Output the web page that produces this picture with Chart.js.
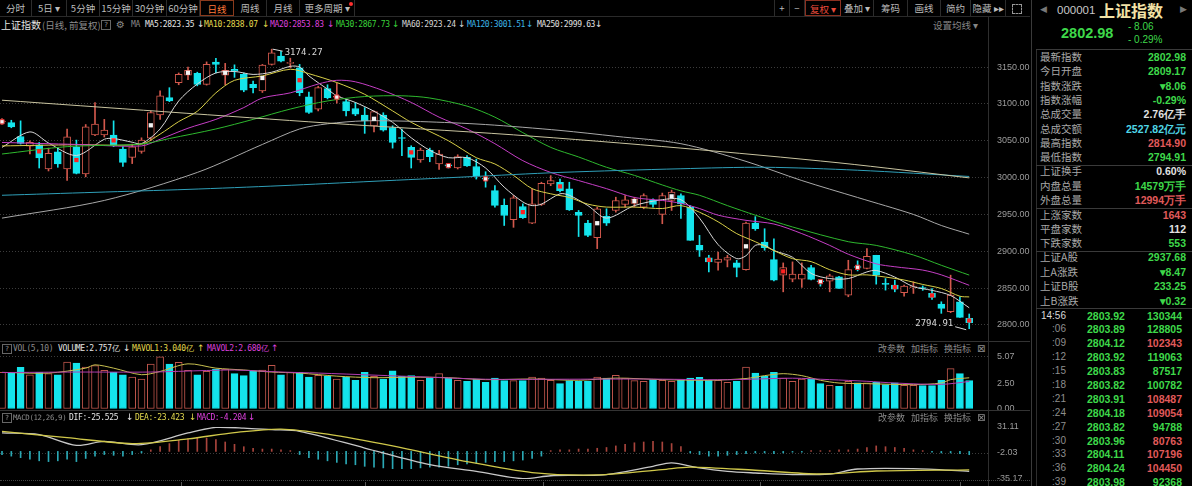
<!DOCTYPE html>
<html><head><meta charset="utf-8">
<script src="https://cdn.jsdelivr.net/npm/chart.js@4/dist/chart.umd.min.js"></script>
<style>
body{margin:0;background:#000;width:1192px;height:486px;overflow:hidden;position:relative;font-family:"Noto Sans CJK SC",sans-serif;color:#b8b8b8}
.a{position:absolute;white-space:nowrap;line-height:12px;height:12px}
.m{font-family:"DejaVu Sans Mono",monospace;font-size:8px;letter-spacing:-0.35px}
.n{font-family:"Liberation Sans",sans-serif}
.hl{position:absolute;height:1px;background:#333}
.vl{position:absolute;width:1px;background:#333}
canvas{position:absolute;left:0}
.bar{position:absolute;top:0;height:16px;display:flex;font-size:9.5px;color:#bdbdbd}
.bar div{border-right:1px solid #2c2c2c;text-align:center;line-height:16px;box-sizing:border-box;height:16px}
.q{position:absolute;width:8px;height:8px;border:1px solid #666;font:7px "DejaVu Sans";color:#999;text-align:center;line-height:8px}
.tk{position:absolute;top:482px;width:1px;height:4px;background:#555}
</style></head><body>

<div class="bar" style="left:0">
  <div style="width:32px">分时</div><div style="width:35px">5日 ▾</div><div style="width:33px">5分钟</div>
  <div style="width:33px">15分钟</div><div style="width:34px">30分钟</div><div style="width:33px">60分钟</div>
  <div style="width:34px;color:#ff7a3a;border:1px solid #8a3a1c">日线</div><div style="width:33px">周线</div>
  <div style="width:33px">月线</div><div style="width:55px">更多周期 ▾</div>
</div>
<div style="position:absolute;left:349px;top:2px;width:4px;height:4px;border-radius:50%;background:#ff3030"></div>
<div class="bar" style="left:774px;border-left:1px solid #2c2c2c">
  <div style="width:15px">+</div><div style="width:15px">−</div>
  <div style="width:36px;color:#e84a3a;border:1px solid #8a3020">复权 ▾</div><div style="width:33px">叠加 ▾</div>
  <div style="width:34px">筹码</div><div style="width:33px">画线</div><div style="width:30px">简约</div>
  <div style="width:35px">隐藏 ▸▸</div><div style="width:25px;border:none"></div>
</div>
<div style="position:absolute;left:1012px;top:4px;width:8px;height:8px;border:1px dashed #999"></div>
<div class="hl" style="left:0;top:16px;width:1030px;background:#2a2a2a"></div>

<div class="a" style="left:1px;top:19px;font-size:10px;color:#e6e6e6">上证指数</div>
<div class="a" style="left:42px;top:19px;font-size:9.5px;color:#8c8c8c">(日线, 前复权)</div>
<div class="q" style="left:101px;top:20px">?</div>
<div class="a" style="left:116px;top:19px;font:10px 'DejaVu Sans';color:#888">⚙</div>
<div class="a m" style="left:131px;top:19px;color:#888">MA</div>
<div id="maHead"></div>
<div class="a" style="left:933px;top:19px;font-size:9.5px;color:#858585">设置均线 ▾</div>

<canvas id="main" width="1030" height="300" style="top:35px;width:1030px;height:300px"></canvas>
<div class="hl" style="left:0;top:341px;width:1030px"></div>
<div class="q" style="left:2px;top:344px">?</div>
<div id="volHead"></div>
<canvas id="vol" width="1030" height="70" style="top:345px;width:1030px;height:70px"></canvas>
<div class="hl" style="left:0;top:410px;width:1030px"></div>
<div class="q" style="left:2px;top:413px">?</div>
<div id="macdHead"></div>
<canvas id="macd" width="1030" height="64" style="top:421px;width:1030px;height:64px"></canvas>
<div style="position:absolute;left:0;top:480px;width:1030px;border-top:1px dotted #444"></div>
<div class="tk" style="left:181px"></div><div class="tk" style="left:365px"></div><div class="tk" style="left:543px"></div>
<div class="tk" style="left:760px"></div><div class="tk" style="left:960px"></div>
<div class="vl" style="left:988px;top:17px;height:469px;background:#2e2e2e"></div>
<div class="vl" style="left:1031px;top:0;height:486px;background:#3a3a3a"></div>
<div class="vl" style="left:1036px;top:49px;height:437px;background:#2e2e2e"></div>
<div id="side"></div>

<script>
// daily candles (index 0 = leftmost)
const opens = [
3075.5,3074.7,3055.8,3042.8,3044.6,3011.7,3035,3011.7,3041.9,3005,
3058,3058,3057.7,3038.8,3027.5,3035.6,3053.6,3085,3108.6,3128.8,
3139,3141.4,3126.6,3156.8,3139,3146.8,3140,3126.6,3117.6,3153.6,
3164.9,3155,3149,3109.5,3092.8,3120.7,3109,3103,3093.7,3085,
3070,3085,3068,3054,3041,3024,3037.4,3018.5,3016.5,3013,
3027.5,3015,2998.5,2982.4,2962.2,2942.8,2960.8,2938.3,2963.5,2991.4,
2993.7,2984.7,2953,2938.3,2918.5,2947.3,2955.4,2963.5,2965,2959.9,
2969,2950,2968.9,2975.7,2959.9,2908,2891,2885,2888,2884.2,
2875.2,2938.3,2912.6,2888.7,2867.6,2862.2,2862.2,2878,2859,2859.5,
2865.3,2840.5,2878.5,2876.6,2894.6,2855.5,2854,2843.7,2850.6,2850,
2842.8,2828.4,2818,2831.5,2809.17];
const highs = [
3080,3077.8,3077,3049.9,3047.7,3040,3040.5,3065.8,3050.9,3072,
3101.8,3079,3077,3042,3045.5,3054,3090,3117.6,3122,3142,
3150,3143,3157,3162,3155,3153,3142,3131,3153.6,3174.27,
3171.5,3162,3153.6,3116,3124,3126,3128,3106,3101.8,3095,
3090.5,3088,3070.3,3066,3043.2,3040,3040,3037,3019,3031,
3030,3025,3008,2989,2971,2975.7,2964.4,2984.7,2993.7,3002.7,
2998,2993.7,2955.4,2941.9,2959.9,2957.7,2973.4,2975.7,2973.4,2978,
2971.2,2979,2983,2978,2962,2921.6,2894.6,2899,2894.6,2887.8,
2939.6,2947,2930.6,2917,2884.2,2885.6,2884.2,2881,2861.7,2868.9,
2866,2887.8,2887,2903.6,2894.6,2863,2860.8,2854,2858.6,2853,
2849.5,2831.5,2867.6,2838.3,2814.9];
const lows = [
3072,3067.6,3045.5,3032,3013,3009,3014,2996,3005,3001,
3057,3055,3042,3015,3019,3033,3050,3079,3103,3126,
3133,3124.5,3125.5,3142,3126,3136,3116.5,3115,3115.5,3152.7,
3157,3149,3111,3087,3090.5,3106.8,3101,3083.7,3084,3060,
3062,3063,3040,3029.7,3013,3020.7,3021.5,3011,3013,3011.7,
3015,2998,2987,2960,2935,2932.5,2944.5,2937.4,2962.2,2989,
2980.6,2955.4,2920,2919.8,2903.6,2935,2953.1,2960,2960,2957.7,
2960,2937.4,2955.4,2944.5,2914.9,2893,2872,2874.3,2878.8,2865.3,
2874.3,2928.4,2901.4,2859.9,2845,2858.6,2851,2861,2852.7,2845,
2849.5,2838.3,2873.4,2876,2855.4,2847.3,2845,2839.2,2842.8,2847,
2834.7,2815.8,2816.7,2810.4,2794.91];
const closes = [
3076,3068.9,3046.4,3047.7,3026.6,3032.9,3018.5,3055.4,3005.8,3068.9,
3072.5,3064.4,3043.2,3020.7,3041.9,3050.9,3088.3,3110.8,3104,3140,
3145.5,3126.6,3153.6,3153.6,3145.5,3144.5,3118.5,3122,3152.7,3169.4,
3158,3155.5,3115.3,3088.3,3122,3108.6,3109.5,3090.5,3086,3077,
3089.6,3064.4,3047.7,3053,3027.5,3037.4,3028.4,3032,3016,3028.4,
3016,3002.7,2998,2962.2,2948.6,2972.5,2945.5,2964.4,2992.3,2996,
2982.4,2956.3,2948.6,2921.6,2957.7,2938.3,2968.9,2969.8,2971.2,2975.7,
2963.5,2975.7,2980.2,2964.4,2914.9,2901.4,2885.6,2889.5,2891.5,2878,
2938.3,2930.6,2905,2860.8,2878,2868.9,2869,2861.8,2858.6,2866.7,
2849.5,2875.2,2878,2893.2,2867.6,2855,2848.6,2852.7,2851,2849.5,
2837.4,2822.5,2840.5,2810.4,2802.98];

// volume, 亿
const volumes = [
3.57,3.5,4.05,3.34,3.57,3.44,3.34,4.58,4.48,4.09,
4.22,3.76,3.57,3.34,3.12,2.92,4.38,5.07,4.38,4.55,
3.76,3.34,3.67,3.89,3.89,3.44,3.25,3.67,3.8,4.25,
3.34,3.57,3.57,3.12,3.28,3.19,2.92,3.12,2.8,3.57,
3.19,2.92,3.73,3.19,3.25,2.8,3.02,3.44,3.02,2.8,
2.7,2.92,2.6,3.02,2.77,2.77,2.77,3.12,3.02,2.8,
2.47,2.77,2.7,2.7,3.12,3.02,3.28,3.02,2.77,2.7,
2.86,2.8,2.7,2.8,3.02,3.08,2.8,2.8,2.6,2.7,
4.09,3.5,3.19,3.57,3.02,2.7,2.92,2.92,2.47,2.31,
2.21,2.7,2.54,2.54,2.63,2.37,2.54,2.31,2.31,2.28,
2.28,2.8,3.93,3.44,2.757];

// MACD histogram
const macdHist = [
-4,-6,-8,-10,-12,-13,-12,-10,-13,-9,-6,-4,-5,-6,-4,-2,
2,6,10,14,16,18,17,15,12,9,6,4,3,3,2,1,
-4,-8,-10,-12,-14,-16,-17,-19,-20,-21,-22,-22,-22,-21,-20,-20,-19,-17,-16,-15,-14,-13,-13,-12,-11,-9,-6,
1,2,2,3,3,4,5,7,9,11,12,13,12,10,6,
-2,-4,-6,-6,-5,-4,-3,
-2,-2,-3,-2,-1,-1,1,1,1,2,2,
3,5,7,6,5,4,2,1,
-1,-2,-2,-3,-4.204];

// moving averages read at a few candles each
const ma5At = [0,3,5,8,11,12,14,15,17,19,21,23,25,27,29,31,32,33,35,36,38,40,42,44,46,48,50,52,54,56,57,58,60,61,63,65,68,71,73,75,77,79,80,81,82,83,85,87,89,91,93,94,96,98,100,102,104];
const ma5 = [3041,3062,3047,3030,3052,3053,3048,3046,3066,3104,3127,3142,3144,3140,3143,3151,3150,3138,3120,3111,3102,3090,3075,3054,3037,3027,3027,3013,2987,2967,2962,2964,2978,2976,2962,2945,2962,2970,2970,2945,2909,2890,2894,2908,2908,2901,2892,2870,2863,2863,2872,2874,2865,2852,2847,2840,2823.35];
const ma10At = [0,8,15,17,19,21,23,25,28,31,33,36,39,42,44,48,51,53,55,57,59,61,63,65,68,71,73,75,77,79,81,83,85,87,89,91,93,95,97,99,101,103,104];
const ma10 = [3043,3044.6,3045.5,3059,3076,3090,3115,3132,3138,3147,3141,3129,3113,3090.5,3075,3050,3027,3018.5,3003,2985,2978,2973,2964,2960,2960,2958,2962,2953,2940,2924,2913,2901,2890,2886,2875,2868,2868,2865,2861,2855,2849.5,2839,2838.07];
const ma20At = [0,8,15,17,20,23,26,28,31,34,36,38,41,44,47,50,53,56,59,62,65,68,71,73,75,77,80,83,86,89,91,94,96,99,101,104];
const ma20 = [3047.7,3045,3043,3052,3067,3079,3095,3108,3115,3127,3132,3130,3118,3102,3082,3066,3046,3023,3007,2996,2985,2973,2969,2965,2958,2949,2942,2937,2924,2908,2896,2883,2879,2874.5,2868,2853.83];
const ma30At = [0,7,15,18,23,27,31,35,39,43,46,50,53,56,59,62,65,68,71,73,75,78,81,85,91,94,98,101,104];
const ma30 = [3032,3042,3045.5,3053,3066,3079,3093,3104,3110,3111,3108,3097,3082,3061,3041,3028,3014,3003,2990,2982,2976,2962,2949,2933,2913,2908,2895,2881,2867.73];
const ma60At = [0,11,21,28,32,35,39,45,52,60,66,73,80,86,92,98,101,104];
const ma60 = [2945,2969,3007,3045,3066,3073,3077,3076,3072,3064,3056,3046,3022,2996,2973,2950,2935,2923.24];
const ma120At = [0,10,20,30,40,50,60,73,82,92,104];
const ma120 = [2976,2980,2984,2989,2995,3001,3007,3012,3014,3010,3001.51];
const ma250At = [0,35,55,73,90,104];
const ma250 = [3105,3074,3058,3040,3020,2999.63];

const mavol1At = [0,5,9,10,12,15,17,20,23,26,29,32,36,40,44,48,52,57,62,66,71,76,80,82,84,86,88,90,93,98,101,102,104];
const mavol1 = [3.57,3.5,3.98,4.3,3.98,3.34,3.66,4.4,3.98,3.8,3.6,3.5,3.2,3.05,3.1,3.05,2.86,2.92,2.8,3.01,2.86,2.8,2.97,3.25,3.44,3.25,2.8,2.53,2.47,2.37,2.53,2.86,3.04];
const mavol2At = [0,8,16,22,25,30,34,40,46,52,60,69,78,85,89,93,96,101,104];
const mavol2 = [3.55,3.6,3.6,3.75,3.8,3.6,3.5,3.3,3.1,2.9,2.9,2.92,2.85,3.0,2.86,2.7,2.53,2.4,2.68];

const difAt = [0,4,8,11,15,20,23,26,29,32,39,46,51,56,59,62,65,70,72,75,78,81,85,89,92,98,104];
const dif = [23.5,21.4,7.7,12.7,8.6,23.5,30.7,29.8,27.7,25.6,4.3,-16.9,-25.4,-34.8,-31,-30.5,-29.6,-19,-14.7,-21.1,-25.4,-27.5,-29.6,-28.8,-22.4,-22,-25.525];
const deaAt = [0,7,14,20,25,30,35,42,50,57,64,71,74,81,88,94,104];
const dea = [25.6,17.5,10,16,24,28.5,22,7,-13,-27,-30,-23.2,-20,-24,-28.8,-25,-23.423];

// signal squares drawn on some candles
const markRed = [4,8,12,32,44,56,60,76,84,96,100,104];
const markWhite = [16,20,24,28,40,64,68,72,80];
const markCross = [0,36,48,52,88,92];

const priceTicks = [2800,2850,2900,2950,3000,3050,3100,3150];
const volTicks = [0,2.5,5.07];
const macdTicks = [-35.17,-2.03,31.11];

const RED = "#d2584c", CYAN = "#14e4ec";
const X_MIN = -0.215, X_MAX = 106.02;
const idx = opens.map((_, i) => i);
const up = idx.map(i => closes[i] >= opens[i]);
const pts = (at, vals) => at.map((x, k) => ({x: x, y: vals[k]}));

function line(data, color, width) {
  return {type: "line", data: data, borderColor: color, borderWidth: width || 1, pointRadius: 0, tension: 0.3, order: 1};
}
function yAxis(min, max, ticks, gridOn) {
  return {
    position: "right", min: min, max: max,
    afterBuildTicks: s => { s.ticks = ticks.map(v => ({value: v})); },
    afterFit: s => { s.width = 42; s.paddingTop = 0; s.paddingBottom = 0; },
    ticks: {color: "#9c9c9c", font: {family: "Liberation Sans", size: 9}, padding: 9, autoSkip: false,
            callback: v => Number(v).toFixed(2)},
    grid: {drawTicks: false, color: c => (c.tick && gridOn(c.tick.value)) ? "#3c3c3c" : "rgba(0,0,0,0)"},
    border: {display: true, color: "#2e2e2e", dash: [1, 2]}
  };
}
function options(y, pad) {
  return {
    responsive: false, animation: false, events: [],
    layout: {autoPadding: false, padding: {top: pad, bottom: pad, left: 0, right: 0}},
    plugins: {legend: {display: false}, tooltip: {enabled: false}},
    scales: {x: {type: "linear", offset: false, min: X_MIN, max: X_MAX, display: false}, y: y}
  };
}

// high / low labels
const hiLo = {
  id: "hilo",
  afterDatasetsDraw(chart) {
    const ctx = chart.ctx, xs = chart.scales.x, ys = chart.scales.y;
    const hi = highs.indexOf(Math.max(...highs)), lo = lows.indexOf(Math.min(...lows));
    ctx.save();
    ctx.font = '9px "DejaVu Sans Mono"';
    ctx.fillStyle = "#d8d8d8"; ctx.strokeStyle = "#d8d8d8"; ctx.lineWidth = 1;
    ctx.textBaseline = "middle";
    let x = xs.getPixelForValue(hi), y = ys.getPixelForValue(highs[hi]);
    ctx.beginPath(); ctx.moveTo(x + 1, y); ctx.lineTo(x + 11, y + 2); ctx.stroke();
    ctx.textAlign = "left"; ctx.fillText(highs[hi].toFixed(2), x + 13, y + 3);
    x = xs.getPixelForValue(lo); y = ys.getPixelForValue(lows[lo]);
    ctx.beginPath(); ctx.moveTo(x - 3, y + 1); ctx.lineTo(x - 14, y - 2); ctx.stroke();
    ctx.textAlign = "right"; ctx.fillText(lows[lo].toFixed(2), x - 16, y - 5);
    ctx.restore();
  }
};

new Chart(document.getElementById("main"), {
  type: "bar",
  data: {datasets: [
    {data: idx.map(i => ({x: i, y: [lows[i], highs[i]]})), backgroundColor: idx.map(i => up[i] ? RED : CYAN),
     barThickness: 1, grouped: false, order: 3},
    {data: idx.map(i => ({x: i, y: [opens[i], closes[i]]})), backgroundColor: idx.map(i => up[i] ? "#000" : CYAN),
     borderColor: idx.map(i => up[i] ? RED : CYAN), borderWidth: 1, borderSkipped: false, minBarLength: 1,
     barThickness: 7, grouped: false, order: 2},
    line(pts(ma250At, ma250), "#c9c4a0"),
    line(pts(ma120At, ma120), "#2f9fb8"),
    line(pts(ma60At, ma60), "#a8a8a8"),
    line(pts(ma30At, ma30), "#2eb82e"),
    line(pts(ma20At, ma20), "#c53ec5"),
    line(pts(ma10At, ma10), "#d8cf48"),
    line(pts(ma5At, ma5), "#d8d8d8"),
    {type: "line", showLine: false, order: 0, data: markRed.map(i => ({x: i, y: (opens[i] + closes[i]) / 2})),
     pointStyle: "rect", pointRadius: 3, pointBackgroundColor: "#ff2020", pointBorderWidth: 0},
    {type: "line", showLine: false, order: 0, data: markWhite.map(i => ({x: i, y: (opens[i] + closes[i]) / 2})),
     pointStyle: "rect", pointRadius: 3, pointBackgroundColor: "#f4f4f4", pointBorderWidth: 0},
    {type: "line", showLine: false, order: 0, data: markCross.map(i => ({x: i, y: (opens[i] + closes[i]) / 2})),
     pointStyle: "rect", pointRadius: 3, pointBackgroundColor: "#f0f0f0", pointBorderColor: "#e03030", pointBorderWidth: 1}
  ]},
  options: options(yAxis(2786.4, 3193.5, priceTicks, () => true), 0),
  plugins: [hiLo]
});

new Chart(document.getElementById("vol"), {
  type: "bar",
  data: {datasets: [
    {data: idx.map(i => ({x: i, y: volumes[i]})), backgroundColor: idx.map(i => up[i] ? "#000" : CYAN),
     borderColor: idx.map(i => up[i] ? "#c0564c" : CYAN), borderWidth: 1, borderSkipped: false,
     barThickness: 7, grouped: false, order: 2},
    line(pts(mavol2At, mavol2), "#b03cb0"),
    line(pts(mavol1At, mavol1), "#c8c050")
  ]},
  options: options(yAxis(0, 5.65, volTicks, v => v > 5), 6)
});

new Chart(document.getElementById("macd"), {
  type: "bar",
  data: {datasets: [
    {data: idx.map(i => ({x: i, y: macdHist[i]})), backgroundColor: idx.map(i => macdHist[i] >= 0 ? "#a8443c" : "#2aa8b4"),
     barThickness: 1, grouped: false, order: 2},
    line(pts(deaAt, dea), "#d0c84a", 1.3),
    line(pts(difAt, dif), "#c8c8c8", 1.3)
  ]},
  options: options(yAxis(-35.17, 31.11, macdTicks, v => v === -2.03), 6)
});

// header texts
function put(parent, x, y, s, color, cls, extra) {
  const d = document.createElement("div");
  d.className = "a " + (cls || "");
  d.style.left = x + "px"; d.style.top = (y - 6) + "px"; d.style.color = color;
  if (extra) d.style.cssText += extra;
  d.textContent = s;
  parent.appendChild(d);
  return d;
}
const last = a => a[a.length - 1].toFixed(2);
const maHead = document.getElementById("maHead");
[["MA5:" + last(ma5), 145, 197, "#e6e6e6"], ["MA10:" + last(ma10), 204, 262, "#e4da4e"],
 ["MA20:" + last(ma20), 270, 327, "#de40de"], ["MA30:" + last(ma30), 336, 392, "#3ad23a"],
 ["MA60:" + last(ma60), 402, 458, "#d6d6d6"], ["MA120:" + last(ma120), 467, 526, "#3cb4e6"],
 ["MA250:" + last(ma250), 537, 595, "#e0e0e0"]].forEach(r => {
  put(maHead, r[1], 25, r[0], r[3], "m");
  put(maHead, r[2], 25, "↓", r[3], "", "font:9px 'DejaVu Sans'");
});

const volHead = document.getElementById("volHead");
put(volHead, 13, 349, "VOL(5,10)", "#8c8c8c", "m");
put(volHead, 58, 349, "VOLUME:" + volumes[volumes.length - 1].toFixed(3) + "亿", "#e6e6e6", "m");
put(volHead, 123, 349, "↓", "#e6e6e6", "", "font:9px 'DejaVu Sans'");
put(volHead, 132, 349, "MAVOL1:" + mavol1[mavol1.length - 1].toFixed(3) + "亿", "#e4da4e", "m");
put(volHead, 197, 349, "↑", "#e4da4e", "", "font:9px 'DejaVu Sans'");
put(volHead, 207, 349, "MAVOL2:" + mavol2[mavol2.length - 1].toFixed(3) + "亿", "#de40de", "m");
put(volHead, 271, 349, "↑", "#de40de", "", "font:9px 'DejaVu Sans'");

const macdHead = document.getElementById("macdHead");
put(macdHead, 13, 418, "MACD(12,26,9)", "#8c8c8c", "m", "font-size:7.4px");
put(macdHead, 69, 418, "DIF:" + dif[dif.length - 1].toFixed(3), "#e6e6e6", "m");
put(macdHead, 126, 418, "↓", "#e6e6e6", "", "font:9px 'DejaVu Sans'");
put(macdHead, 135, 418, "DEA:" + dea[dea.length - 1].toFixed(3), "#e4da4e", "m");
put(macdHead, 189, 418, "↓", "#e4da4e", "", "font:9px 'DejaVu Sans'");
put(macdHead, 197, 418, "MACD:" + macdHist[macdHist.length - 1].toFixed(3), "#de40de", "m");
put(macdHead, 248, 418, "↓", "#de40de", "", "font:9px 'DejaVu Sans'");
[[349, volHead], [418, macdHead]].forEach(p => {
  put(p[1], 878, p[0], "改参数", "#8a8a8a", "", "font-size:9px");
  put(p[1], 911, p[0], "加指标", "#8a8a8a", "", "font-size:9px");
  put(p[1], 944, p[0], "换指标", "#8a8a8a", "", "font-size:9px");
  put(p[1], 977, p[0], "⊠", "#8a8a8a", "", "font:10px 'DejaVu Sans'");
});

// right-hand quote panel
const side = document.getElementById("side");
put(side, 1040, 10, "◀", "#777", "", "font:9px 'DejaVu Sans'");
put(side, 1057, 10, "000001", "#c8c8c8", "n", "font-size:11.5px");
put(side, 1099, 10, "上证指数", "#f2e2a6", "", "font-size:16px;font-weight:bold;line-height:12px");
put(side, 1180, 10, "▶", "#777", "", "font:9px 'DejaVu Sans'");
put(side, 1061, 33, "2802.98", "#3ed84a", "n", "font-size:14.5px;font-weight:bold");
put(side, 1128, 27, "- 8.06", "#3ed84a", "n", "font-size:10px");
put(side, 1128, 40, "- 0.29%", "#3ed84a", "n", "font-size:10px");

const infoLabels = ["最新指数","今日开盘","指数涨跌","指数涨幅","总成交量","总成交额","最高指数","最低指数",
  "上证换手","内盘总量","外盘总量","上涨家数","平盘家数","下跌家数","上证A股","上A涨跌","上证B股","上B涨跌"];
const infoValues = ["2802.98","2809.17","▾8.06","-0.29%","2.76亿手","2527.82亿元","2814.90","2794.91",
  "0.60%","14579万手","12994万手","1643","112","553","2937.68","▾8.47","233.25","▾0.32"];
const infoColors = "ggggwcrgwgrrwggggg";
const infoY = [57,71,86,100,114,129,143,157,171,186,200,215,229,243,257,272,286,301];
const col = {g: "#3ed84a", r: "#e05a5a", w: "#e2e2e2", c: "#4fd6e6"};
infoLabels.forEach((s, k) => {
  put(side, 1040, infoY[k], s, "#a8a8a8", "", "font-size:10.5px");
  put(side, 1040, infoY[k], infoValues[k], col[infoColors[k]], "n", "font-size:10.5px;font-weight:bold;width:146px;text-align:right");
});
[49, 165, 208, 251, 308].forEach(y => {
  const d = document.createElement("div");
  d.className = "hl"; d.style.cssText = "left:1036px;width:156px;top:" + y + "px;background:#3a3a3a";
  side.appendChild(d);
});

const tickTimes = ["14:56",":06",":09",":12",":15",":18",":21",":24",":27",":30",":33",":36",":39"];
const tickPrices = [2803.92,2803.89,2804.12,2803.92,2803.83,2803.82,2803.91,2804.18,2803.82,2803.96,2804.11,2804.24,2803.98];
const tickVols = [130344,128805,102343,119063,87517,100782,108487,109054,94788,80763,107196,104450,92368];
const tickVolColors = "ggrgggrrgrrrg";
tickTimes.forEach((t, k) => {
  const y = k === 0 ? 316 : 329.3 + (k - 1) * 13.9;
  put(side, 1030, y, t, k === 0 ? "#d8d8d8" : "#8e8e8e", "n", "font-size:10px;width:36px;text-align:right");
  put(side, 1087, y, tickPrices[k].toFixed(2), "#3ed84a", "n", "font-size:10.5px;font-weight:bold");
  put(side, 1130, y, String(tickVols[k]), col[tickVolColors[k]], "n", "font-size:10.5px;font-weight:bold;width:52px;text-align:right");
});
</script>
</body></html>
